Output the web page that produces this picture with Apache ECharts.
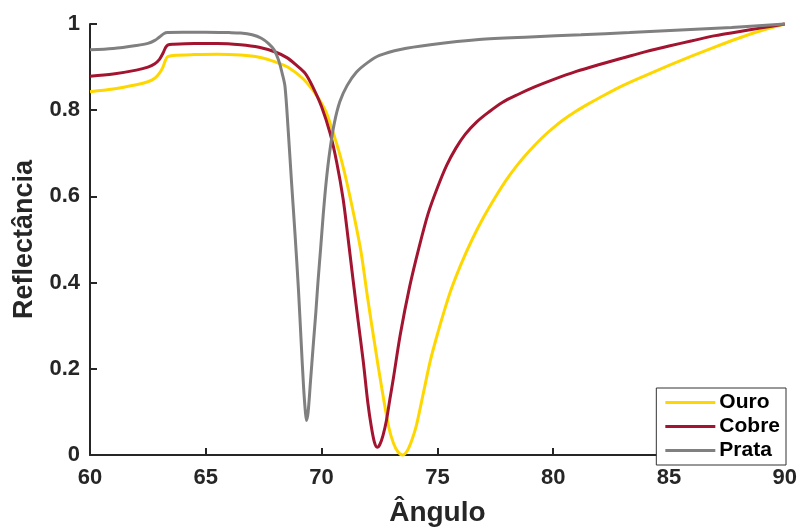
<!DOCTYPE html>
<html>
<head>
<meta charset="utf-8">
<script src="https://cdn.jsdelivr.net/npm/echarts@6/dist/echarts.min.js"></script>
<style>
html,body{margin:0;padding:0;background:#fff;}
#chart{width:800px;height:532px;}
</style>
</head>
<body>
<div id="chart"></div>
<script>
// Angles (degrees) and reflectance values
var ouroX = [60, 61, 62, 62.5, 62.8, 63.0, 63.15, 63.25, 63.35, 63.6, 64.5, 65.5, 66.5, 67.3, 68.0, 68.6, 69.2, 69.6, 69.9, 70.2, 70.5, 70.8, 71.1, 71.4, 71.7, 72.0, 72.3, 72.6, 72.9, 73.1, 73.3, 73.5, 73.7, 73.9, 74.1, 74.4, 74.7, 75.0, 75.3, 75.6, 76.0, 76.5, 77.0, 77.5, 78.0, 78.5, 79.0, 79.5, 80.0, 80.5, 81.0, 81.5, 82.0, 83.0, 84.0, 85.0, 86.0, 87.0, 88.0, 89.0, 90];
var ouroY = [0.843, 0.849, 0.859, 0.866, 0.874, 0.886, 0.900, 0.915, 0.924, 0.927, 0.929, 0.930, 0.928, 0.923, 0.912, 0.898, 0.873, 0.848, 0.825, 0.795, 0.748, 0.695, 0.630, 0.555, 0.472, 0.360, 0.255, 0.155, 0.065, 0.028, 0.007, 0.0, 0.010, 0.035, 0.070, 0.145, 0.220, 0.280, 0.335, 0.385, 0.440, 0.500, 0.552, 0.598, 0.640, 0.676, 0.707, 0.735, 0.759, 0.780, 0.798, 0.814, 0.829, 0.857, 0.881, 0.904, 0.926, 0.947, 0.967, 0.985, 1.0];

var cobreX = [60, 61, 62, 62.5, 62.8, 63.0, 63.15, 63.25, 63.35, 63.6, 64.5, 65.5, 66.5, 67.3, 68.0, 68.5, 68.9, 69.3, 69.64, 70.0, 70.36, 70.65, 70.93, 71.15, 71.36, 71.58, 71.8, 72.0, 72.15, 72.28, 72.4, 72.52, 72.65, 72.8, 72.95, 73.1, 73.4, 73.8, 74.2, 74.6, 75.0, 75.4, 75.8, 76.2, 76.7, 77.2, 77.8, 78.5, 79.2, 80.0, 81.0, 82.0, 83.0, 84.0, 85.0, 86.0, 87.0, 88.0, 89.0, 90];
var cobreY = [0.879, 0.884, 0.893, 0.900, 0.908, 0.918, 0.932, 0.944, 0.951, 0.953, 0.955, 0.955, 0.952, 0.946, 0.935, 0.922, 0.905, 0.885, 0.852, 0.808, 0.748, 0.680, 0.594, 0.500, 0.406, 0.310, 0.217, 0.120, 0.065, 0.030, 0.018, 0.025, 0.045, 0.080, 0.130, 0.178, 0.280, 0.390, 0.480, 0.560, 0.620, 0.672, 0.712, 0.744, 0.773, 0.795, 0.818, 0.837, 0.854, 0.871, 0.890, 0.906, 0.921, 0.936, 0.949, 0.961, 0.973, 0.982, 0.991, 1.0];

var prataX = [60, 61, 62, 62.5, 62.8, 63.0, 63.2, 63.35, 64, 65, 66, 66.5, 67.0, 67.4, 67.7, 67.95, 68.15, 68.3, 68.42, 68.55, 68.7, 68.85, 69.0, 69.12, 69.22, 69.3, 69.35, 69.42, 69.52, 69.64, 69.75, 69.85, 69.96, 70.07, 70.2, 70.36, 70.55, 70.79, 71.1, 71.5, 72.0, 72.5, 73.4, 74.7, 76.8, 79.0, 81.2, 83.3, 85.5, 87.7, 90];
var prataY = [0.940, 0.943, 0.950, 0.955, 0.962, 0.970, 0.978, 0.980, 0.981, 0.981, 0.980, 0.979, 0.975, 0.967, 0.955, 0.940, 0.915, 0.885, 0.855, 0.760, 0.635, 0.515, 0.385, 0.260, 0.160, 0.100, 0.080, 0.100, 0.170, 0.255, 0.330, 0.406, 0.480, 0.557, 0.635, 0.707, 0.770, 0.820, 0.857, 0.888, 0.911, 0.927, 0.941, 0.952, 0.964, 0.970, 0.975, 0.980, 0.986, 0.992, 1.0];

var seriesNames = ['Ouro', 'Cobre', 'Prata'];
var xTicks = [60, 65, 70, 75, 80, 85, 90];
var yTicks = [0, 0.2, 0.4, 0.6, 0.8, 1];

function pairs(xs, ys) {
  var out = [];
  for (var i = 0; i < xs.length; i++) out.push([xs[i], ys[i]]);
  return out;
}

var txt = '#262626';
var font = '"Liberation Sans", Arial, sans-serif';

var chart = echarts.init(document.getElementById('chart'), null, {renderer: 'canvas'});
chart.setOption({
  animation: false,
  backgroundColor: '#ffffff',
  grid: {left: 90, right: 15, top: 24, bottom: 66, containLabel: false},
  legend: {
    data: seriesNames,
    orient: 'vertical',
    right: 14,
    bottom: 67,
    icon: 'rect',
    itemWidth: 50,
    itemHeight: 3,
    itemGap: 3,
    padding: [4, 6, 4, 9],
    backgroundColor: '#ffffff',
    borderColor: '#333333',
    borderWidth: 1,
    borderRadius: 0,
    textStyle: {color: '#000', fontFamily: font, fontWeight: 'bold', fontSize: 21, lineHeight: 20, padding: [0, 0, 0, -1]}
  },
  xAxis: {
    type: 'value',
    min: xTicks[0],
    max: xTicks[xTicks.length - 1],
    interval: 5,
    name: 'Ângulo',
    nameLocation: 'middle',
    nameGap: 44,
    nameTextStyle: {color: txt, fontFamily: font, fontWeight: 'bold', fontSize: 28},
    axisLine: {show: true, onZero: false, lineStyle: {color: txt, width: 2}},
    axisTick: {show: true, inside: true, length: 7, lineStyle: {color: txt, width: 2}},
    axisLabel: {color: txt, fontFamily: font, fontWeight: 'bold', fontSize: 22, margin: 12},
    splitLine: {show: false}
  },
  yAxis: {
    type: 'value',
    min: yTicks[0],
    max: yTicks[yTicks.length - 1],
    interval: 0.2,
    name: 'Reflectância',
    nameLocation: 'middle',
    nameGap: 52,
    nameRotate: 90,
    nameTextStyle: {color: txt, fontFamily: font, fontWeight: 'bold', fontSize: 27},
    axisLine: {show: true, onZero: false, lineStyle: {color: txt, width: 2}},
    axisTick: {show: true, inside: true, length: 7, lineStyle: {color: txt, width: 2}},
    axisLabel: {color: txt, fontFamily: font, fontWeight: 'bold', fontSize: 22, margin: 10},
    splitLine: {show: false}
  },
  series: [
    {name: seriesNames[0], type: 'line', data: pairs(ouroX, ouroY), showSymbol: false, symbol: 'none', smooth: 0.3, clip: false, lineStyle: {color: '#FFD700', width: 3}, itemStyle: {color: '#FFD700'}},
    {name: seriesNames[1], type: 'line', data: pairs(cobreX, cobreY), showSymbol: false, symbol: 'none', smooth: 0.3, clip: false, lineStyle: {color: '#A2142F', width: 3}, itemStyle: {color: '#A2142F'}},
    {name: seriesNames[2], type: 'line', data: pairs(prataX, prataY), showSymbol: false, symbol: 'none', smooth: 0.3, clip: false, lineStyle: {color: '#808080', width: 3}, itemStyle: {color: '#808080'}}
  ]
});
</script>
</body>
</html>
